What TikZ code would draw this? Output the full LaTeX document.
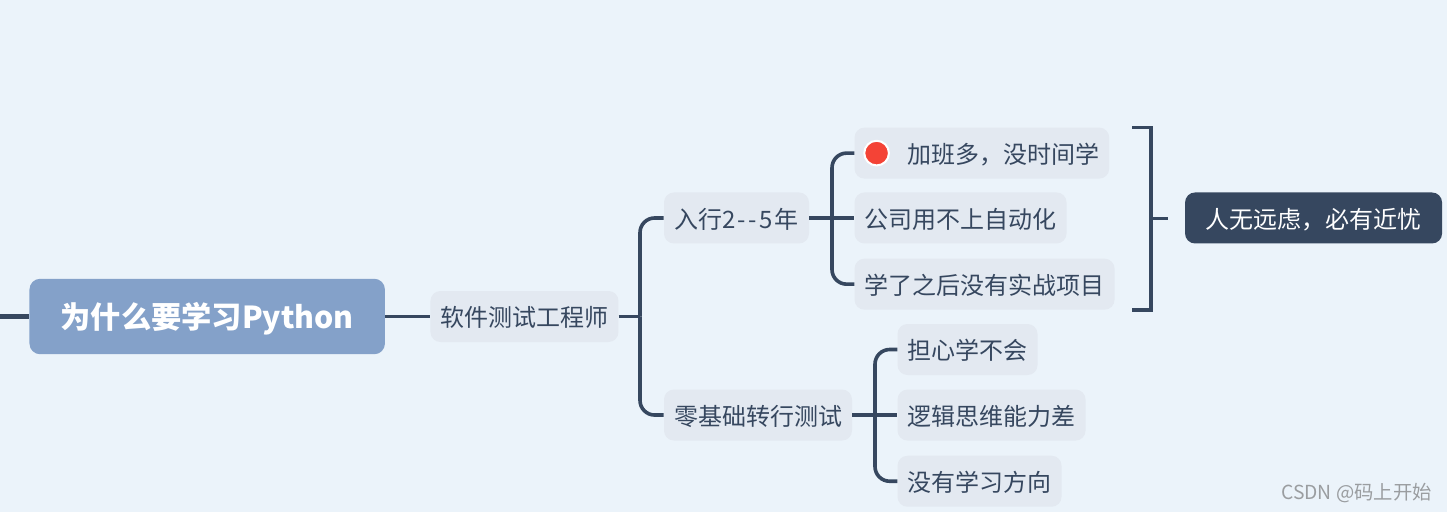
\documentclass[tikz,border=0pt]{standalone}
\usepackage{xcolor}
\usepackage{fontspec}
\setmainfont{Noto Sans CJK SC}
\usetikzlibrary{positioning,shapes}

\definecolor{bgcol}{HTML}{EBF3FA}
\definecolor{maincol}{HTML}{84A1C9}
\definecolor{topiccol}{HTML}{E3E9F1}
\definecolor{inkcol}{HTML}{36475F}
\definecolor{markcol}{HTML}{9A9DA0}
\definecolor{dotcol}{HTML}{F44336}

\tikzset{
  topic/.style={fill=topiccol, text=inkcol, rectangle, rounded corners=7.5pt, inner xsep=7.5pt, inner ysep=0pt,
    minimum height=38.25pt, text height=18.4pt, text depth=3pt, font=\fontsize{18}{22}\selectfont},
  link/.style={draw=inkcol, line width=2.7pt, rounded corners=11pt}
}

\begin{document}
\begin{tikzpicture}[x=0.75pt, y=-0.75pt]
  \path[use as bounding box, fill=bgcol] (0,0) rectangle (1447,512);

  \node[fill=maincol, text=white, rectangle, rounded corners=8pt, minimum width=266.6pt, minimum height=56.6pt, inner sep=0pt, text height=22pt, text depth=3.6pt, font=\fontsize{22.7}{26}\selectfont\bfseries] (why) at (207.2,316.5) {为什么要学习Python};
  \node[topic, right=33.75pt of why] (tester) {软件测试工程师};
  \node[topic, minimum width=108.75pt, above right=35.25pt and 33.75pt of tester] (years) {入行2\kern1.7pt{-}\kern1.7pt{-}\kern1.7pt 5\kern1.7pt 年};
  \node[topic, below right=35.25pt and 33.75pt of tester] (zero) {零基础转行测试};

  \node[topic, right=33.75pt of years] (auto) {公司用不上自动化};
  \node[topic, above right=10pt and 0pt of auto.north west] (busy) {\hspace*{32pt}加班多，没时间学};
  \node[topic, below right=11pt and 0pt of auto.south west] (project) {学了之后没有实战项目};
  \node[circle, fill=dotcol, draw=white, line width=1.5pt, minimum size=18.5pt, inner sep=0pt, right=6.75pt of busy.west] (dot) {};

  \node[topic, right=33.75pt of zero] (logic) {逻辑思维能力差};
  \node[topic, above right=10.5pt and 0pt of logic.north west] (worry) {担心学不会};
  \node[topic, below right=11pt and 0pt of logic.south west] (nodir) {没有学习方向};

  \node[topic, fill=inkcol, text=white, minimum width=192.75pt, right=88.5pt of auto] (saying) {人无远虑，必有近忧};
  \node[text=markcol, inner sep=0pt, font=\fontsize{14.5}{17}\selectfont, anchor=east] (mark) at (1432,493) {CSDN @码上开始};

  \coordinate (start) at (0,316.5);
  \coordinate (testerfork) at (640,316.5);
  \coordinate (yearsfork) at (832,218.5);
  \coordinate (zerofork) at (875,414.5);
  \coordinate (bracktop) at (1132,127.5);
  \coordinate (brackbot) at (1132,310);
  \coordinate (brackmid) at (1151,218.5);

  \draw[link, line width=3.8pt] (start) -- (why);
  \draw[link] (why) -- (tester);
  \draw[link] (tester) -- (testerfork);
  \draw[link] (testerfork) |- (years.west);
  \draw[link] (testerfork) |- (zero.west);

  \draw[link] (years) -- (auto);
  \draw[link] (yearsfork) |- (busy.west);
  \draw[link] (yearsfork) |- (project.west);

  \draw[link] (zero) -- (logic);
  \draw[link] (zerofork) |- (worry.west);
  \draw[link] (zerofork) |- (nodir.west);

  \draw[link, rounded corners=0pt] (bracktop) -| (brackmid) |- (brackbot);
  \draw[link] (brackmid) -- ++(17,0);
\end{tikzpicture}
\end{document}
